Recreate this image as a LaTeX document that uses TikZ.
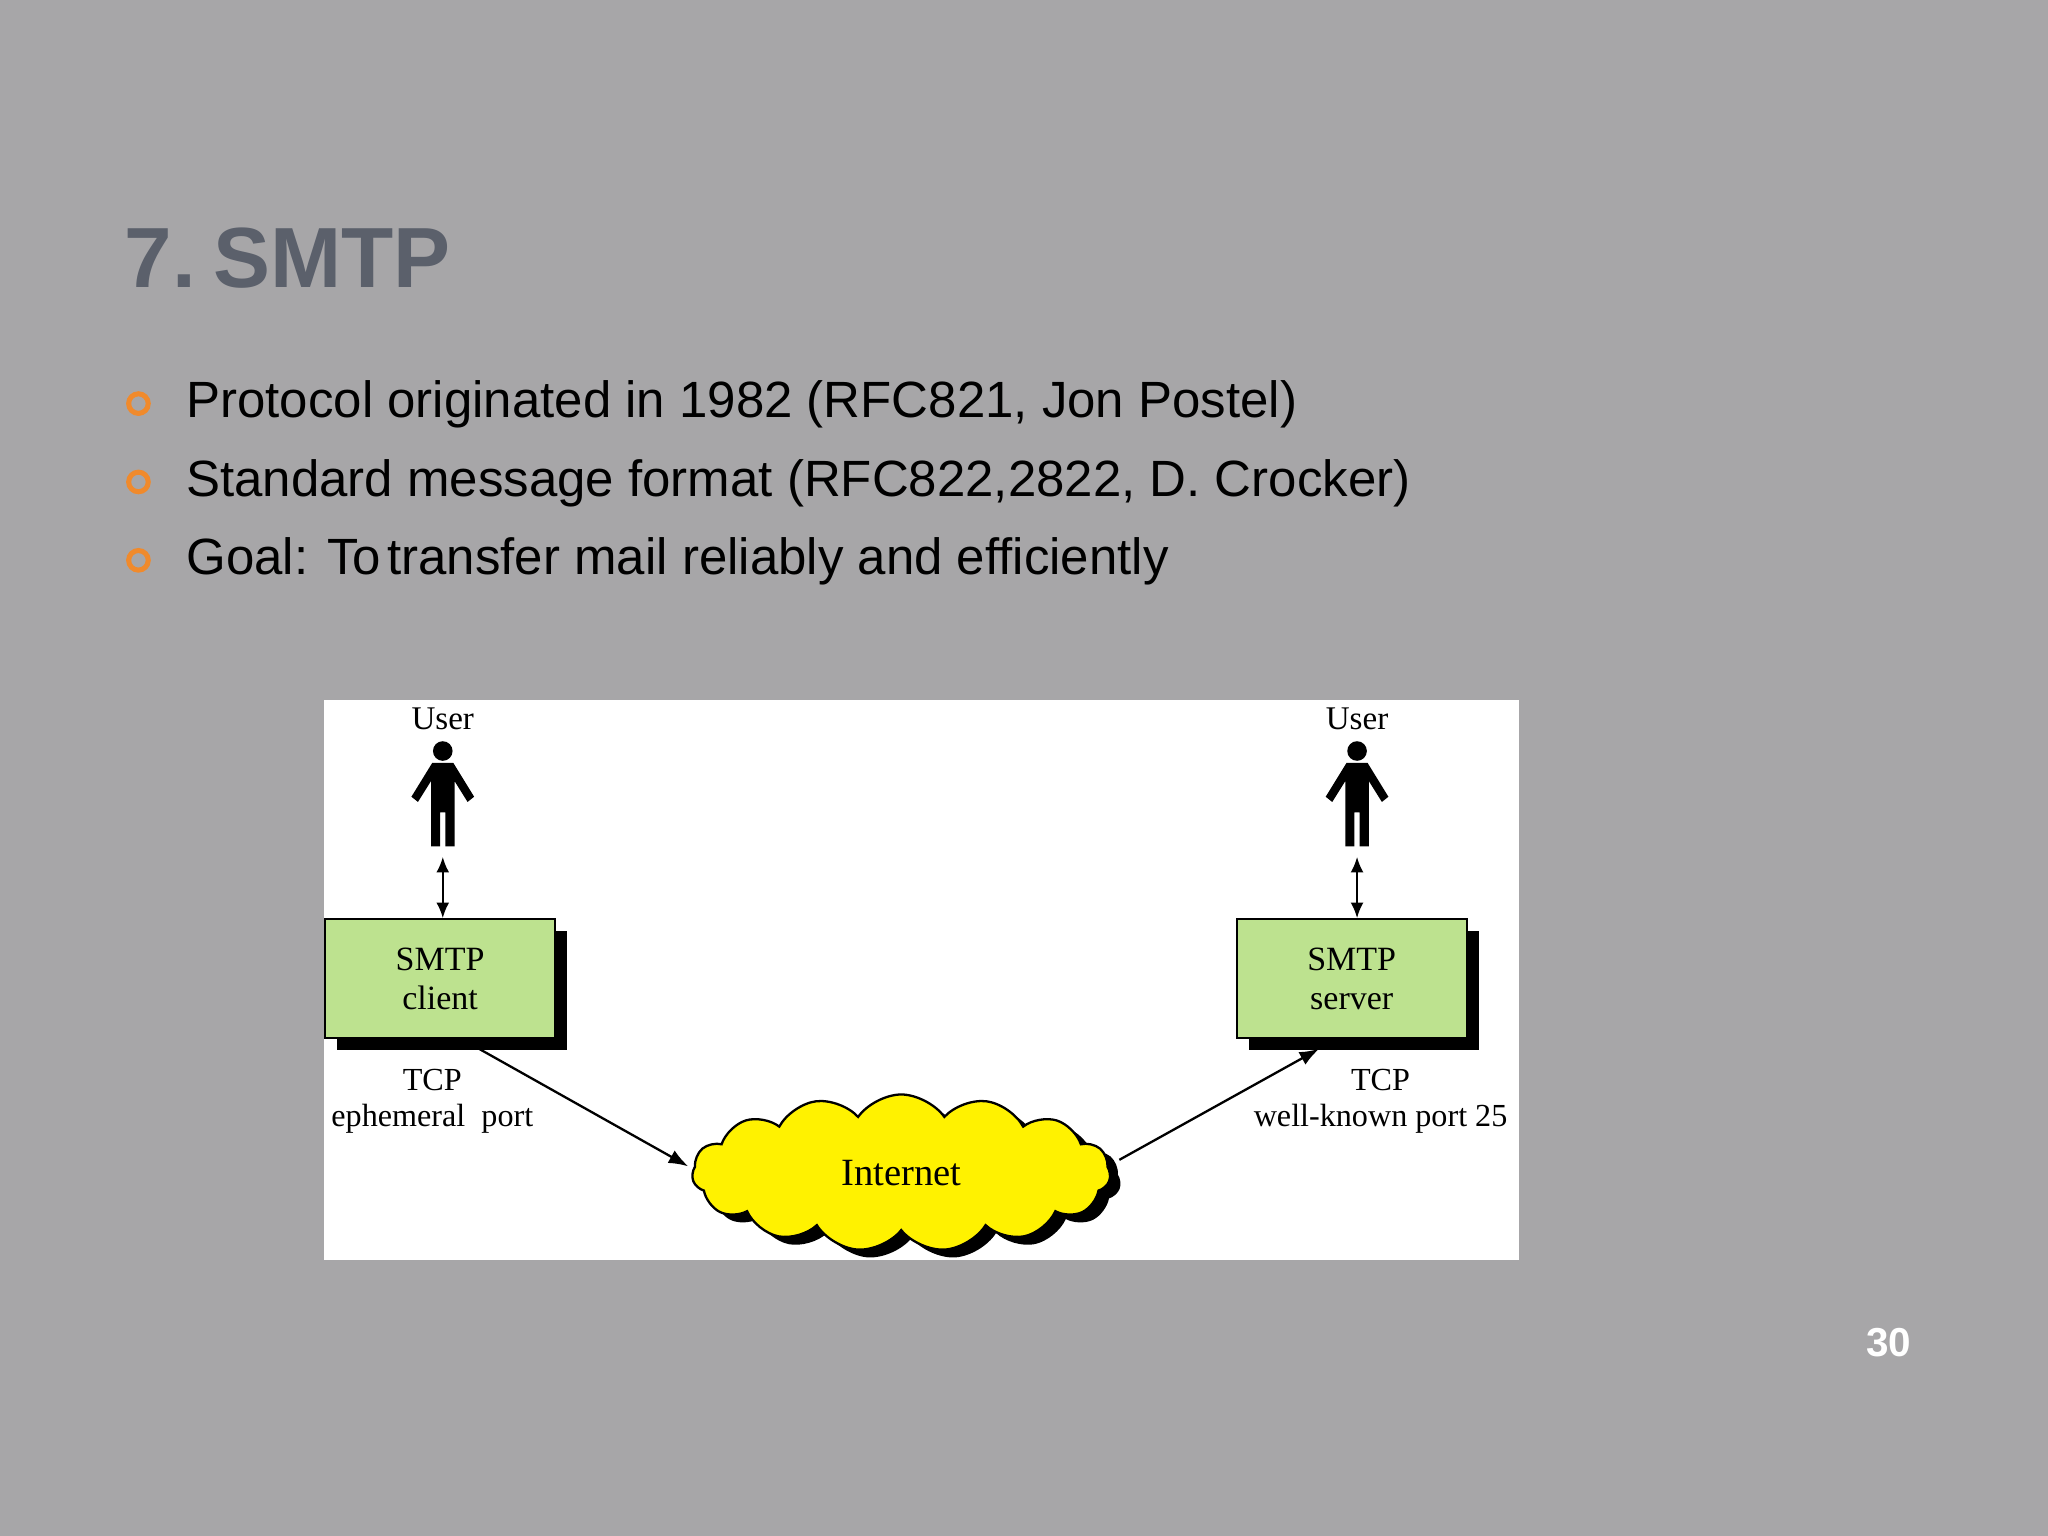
\documentclass[tikz,border=0pt]{standalone}
\usepackage{fontspec}
\setmainfont{Liberation Serif}
\newfontfamily\arialf{Liberation Sans}
\usetikzlibrary{shapes.symbols,arrows.meta}
\definecolor{bg}{HTML}{A7A6A8}
\definecolor{titlec}{HTML}{5B606B}
\definecolor{orng}{HTML}{F08A2C}
\definecolor{boxg}{HTML}{BDE28F}
\tikzset{
 smtpbox/.style={draw=black,fill=boxg,minimum width=1.76cm,minimum height=0.91cm,inner sep=0pt,align=center,font=\fontsize{7.4}{8.4}\selectfont,line width=0.5pt},
 bul/.style={draw=orng,line width=1.1pt,circle,minimum size=0.15cm,inner sep=0pt},
 btxt/.style={anchor=base west,font=\arialf\fontsize{11.1}{13}\selectfont,inner sep=0pt},
 lbl/.style={font=\fontsize{7}{7.8}\selectfont,align=center,inner sep=0pt},
 dbl/.style={{Latex[length=1.2mm,width=1mm]}-{Latex[length=1.2mm,width=1mm]},line width=0.5pt},
 sarr/.style={-{Latex[length=1.5mm,width=1.1mm]},line width=0.5pt},
 cloudsh/.style={cloud,cloud puffs=15,cloud puff arc=110,minimum width=3.2cm,minimum height=1.2cm,aspect=2.7,inner sep=0pt}
}
\begin{document}
\begin{tikzpicture}[x=0.01cm,y=-0.01cm]
\fill[bg] (0,0) rectangle (1568,1176);
\useasboundingbox (0,0) rectangle (1568,1176);
\node[anchor=base west,inner sep=0pt,text=titlec,font=\arialf\bfseries\fontsize{18.6}{22}\selectfont] (title) at (95,220) {7.\hspace{0.2em}SMTP};
\node[bul] (b1) at (106,309) {};
\node[bul] (b2) at (106,369) {};
\node[bul] (b3) at (106,429) {};
\node[btxt] (t1) at (142,320) {Protocol originated in 1982 (RFC821, Jon Postel)};
\node[btxt] (t2) at (142,380) {Standard message format (RFC822,2822, D. Crocker)};
\node[btxt] (t3) at (142,440) {Goal: To\hspace{-0.15em} transfer mail reliably and efficiently};
\fill[white] (248,536) rectangle (1163,965);
% boxes
\fill[black] (258,713) rectangle (434,804);
\node[smtpbox,anchor=north west] (cli) at (248,703) {SMTP\\client};
\fill[black] (956,713) rectangle (1132,804);
\node[smtpbox,anchor=north west] (srv) at (946,703) {SMTP\\server};
% users
\foreach \nm/\cx in {ua/339,ub/1039}{
 \node[lbl,font=\fontsize{7.2}{8}\selectfont] (\nm lab) at (\cx,550) {User};
 \fill[black] (\cx,575) circle (7.5);
 \fill[black] (\cx-8,584) -- (\cx+8,584) -- (\cx+24,610) -- (\cx+19,614) -- (\cx+9,598) -- (\cx+9,648) -- (\cx+2,648) -- (\cx+2,622) -- (\cx-2,622) -- (\cx-2,648) -- (\cx-9,648) -- (\cx-9,598) -- (\cx-19,614) -- (\cx-24,610) -- cycle;
 \coordinate (\nm feet) at (\cx,656);
}
\draw[dbl] (uafeet) -- (uafeet |- cli.north);
\draw[dbl] (ubfeet) -- (ubfeet |- srv.north);
% cloud
\node[cloudsh,fill=black] (cshadow) at (698,904) {};
\node[cloudsh,fill=yellow,draw=black,line width=0.5pt] (cloud) at (690,898) {};
\node[font=\fontsize{8.4}{9}\selectfont] (inet) at (690,898) {Internet};
\node[lbl] (tcpa) at (331,843) {TCP\\ephemeral\ \ port};
\node[lbl] (tcpb) at (1057,843) {TCP\\well-known port 25};
\coordinate (ca) at (365,802);
\coordinate (cb) at (527,893);
\coordinate (cc) at (857,888);
\coordinate (cd) at (1010,803);
\draw[sarr] (ca) -- (cb);
\draw[sarr] (cc) -- (cd);
\node[text=white,font=\arialf\bfseries\fontsize{8.8}{10}\selectfont] (pg) at (1446,1028) {30};
\end{tikzpicture}
\end{document}
